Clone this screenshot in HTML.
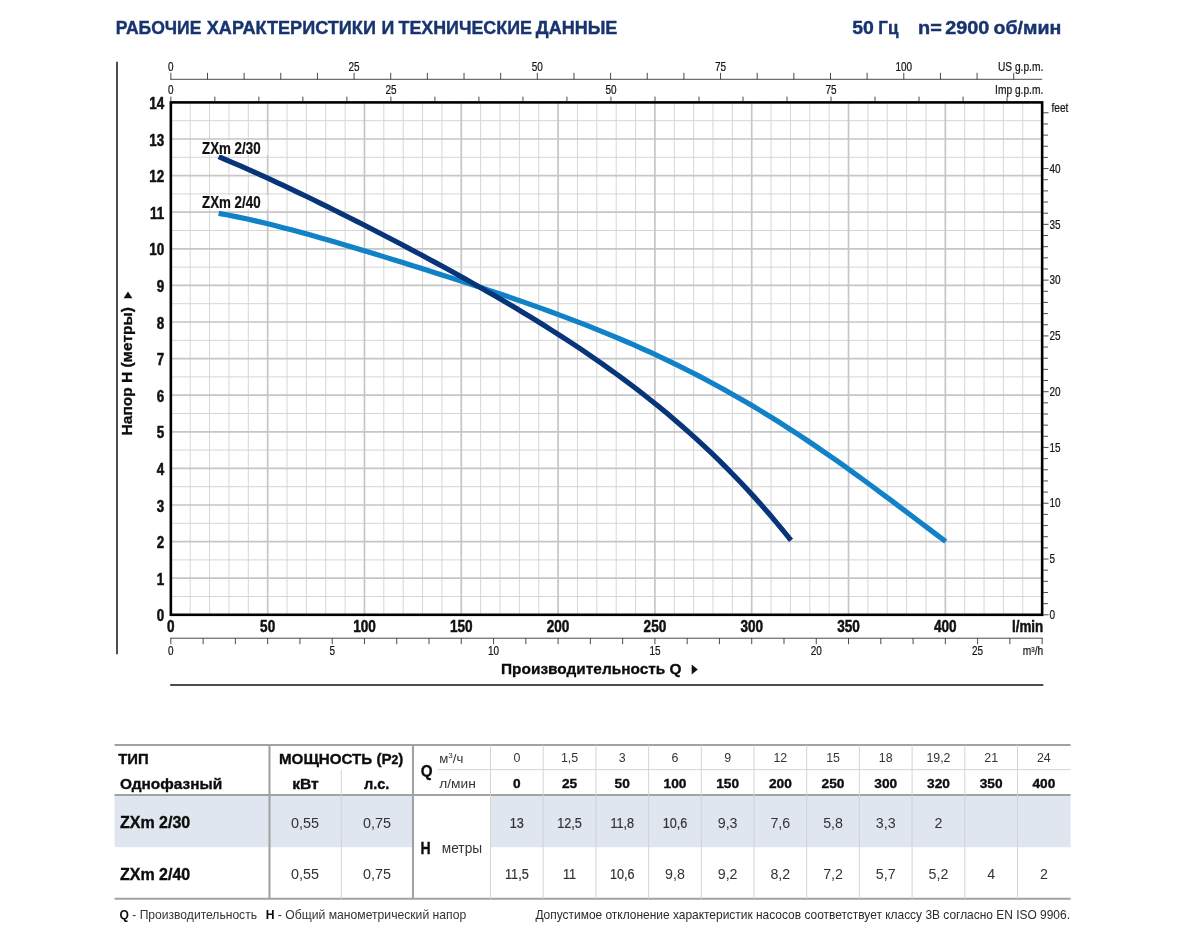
<!DOCTYPE html>
<html lang="ru"><head><meta charset="utf-8"><title>Рабочие характеристики и технические данные</title>
<style>html,body{margin:0;padding:0;background:#fff}body{width:1200px;height:950px;overflow:hidden}svg{display:block}</style>
</head><body>
<svg width="1200" height="950" viewBox="0 0 1200 950" font-family='"Liberation Sans", sans-serif'>
<rect width="1200" height="950" fill="#fff"/>
<text x="115.80" y="33.50" font-size="18.2" font-weight="bold" fill="#17346f" textLength="85.60" lengthAdjust="spacingAndGlyphs" stroke="#17346f" stroke-width="0.4">РАБОЧИЕ</text>
<text x="206.80" y="33.50" font-size="18.2" font-weight="bold" fill="#17346f" textLength="169.10" lengthAdjust="spacingAndGlyphs" stroke="#17346f" stroke-width="0.4">ХАРАКТЕРИСТИКИ</text>
<text x="381.40" y="33.50" font-size="18.2" font-weight="bold" fill="#17346f" textLength="12.80" lengthAdjust="spacingAndGlyphs" stroke="#17346f" stroke-width="0.4">И</text>
<text x="398.50" y="33.50" font-size="18.2" font-weight="bold" fill="#17346f" textLength="133.40" lengthAdjust="spacingAndGlyphs" stroke="#17346f" stroke-width="0.4">ТЕХНИЧЕСКИЕ</text>
<text x="535.80" y="33.50" font-size="18.2" font-weight="bold" fill="#17346f" textLength="81.60" lengthAdjust="spacingAndGlyphs" stroke="#17346f" stroke-width="0.4">ДАННЫЕ</text>
<text x="852.30" y="33.70" font-size="18.2" font-weight="bold" fill="#17346f" textLength="21.60" lengthAdjust="spacingAndGlyphs" stroke="#17346f" stroke-width="0.4">50</text>
<text x="878.30" y="33.70" font-size="18.2" font-weight="bold" fill="#17346f" textLength="20.10" lengthAdjust="spacingAndGlyphs" stroke="#17346f" stroke-width="0.4">Гц</text>
<text x="918.10" y="33.70" font-size="18.2" font-weight="bold" fill="#17346f" textLength="23.80" lengthAdjust="spacingAndGlyphs" stroke="#17346f" stroke-width="0.4">n=</text>
<text x="945.30" y="33.70" font-size="18.2" font-weight="bold" fill="#17346f" textLength="44.10" lengthAdjust="spacingAndGlyphs" stroke="#17346f" stroke-width="0.4">2900</text>
<text x="993.50" y="33.70" font-size="18.2" font-weight="bold" fill="#17346f" textLength="67.70" lengthAdjust="spacingAndGlyphs" stroke="#17346f" stroke-width="0.4">об/мин</text>
<line x1="117" y1="61.8" x2="117" y2="654.3" stroke="#222" stroke-width="1.6"/>
<line x1="170.2" y1="685" x2="1043.3" y2="685" stroke="#111" stroke-width="1.3"/>
<g stroke="#d6d6d6" stroke-width="1">
<line x1="190.21" y1="102.4" x2="190.21" y2="614.8"/>
<line x1="209.57" y1="102.4" x2="209.57" y2="614.8"/>
<line x1="228.94" y1="102.4" x2="228.94" y2="614.8"/>
<line x1="248.30" y1="102.4" x2="248.30" y2="614.8"/>
<line x1="287.02" y1="102.4" x2="287.02" y2="614.8"/>
<line x1="306.39" y1="102.4" x2="306.39" y2="614.8"/>
<line x1="325.75" y1="102.4" x2="325.75" y2="614.8"/>
<line x1="345.11" y1="102.4" x2="345.11" y2="614.8"/>
<line x1="383.83" y1="102.4" x2="383.83" y2="614.8"/>
<line x1="403.20" y1="102.4" x2="403.20" y2="614.8"/>
<line x1="422.56" y1="102.4" x2="422.56" y2="614.8"/>
<line x1="441.92" y1="102.4" x2="441.92" y2="614.8"/>
<line x1="480.65" y1="102.4" x2="480.65" y2="614.8"/>
<line x1="500.01" y1="102.4" x2="500.01" y2="614.8"/>
<line x1="519.37" y1="102.4" x2="519.37" y2="614.8"/>
<line x1="538.73" y1="102.4" x2="538.73" y2="614.8"/>
<line x1="577.46" y1="102.4" x2="577.46" y2="614.8"/>
<line x1="596.82" y1="102.4" x2="596.82" y2="614.8"/>
<line x1="616.18" y1="102.4" x2="616.18" y2="614.8"/>
<line x1="635.54" y1="102.4" x2="635.54" y2="614.8"/>
<line x1="674.27" y1="102.4" x2="674.27" y2="614.8"/>
<line x1="693.63" y1="102.4" x2="693.63" y2="614.8"/>
<line x1="712.99" y1="102.4" x2="712.99" y2="614.8"/>
<line x1="732.35" y1="102.4" x2="732.35" y2="614.8"/>
<line x1="771.08" y1="102.4" x2="771.08" y2="614.8"/>
<line x1="790.44" y1="102.4" x2="790.44" y2="614.8"/>
<line x1="809.80" y1="102.4" x2="809.80" y2="614.8"/>
<line x1="829.17" y1="102.4" x2="829.17" y2="614.8"/>
<line x1="867.89" y1="102.4" x2="867.89" y2="614.8"/>
<line x1="887.25" y1="102.4" x2="887.25" y2="614.8"/>
<line x1="906.61" y1="102.4" x2="906.61" y2="614.8"/>
<line x1="925.98" y1="102.4" x2="925.98" y2="614.8"/>
<line x1="964.70" y1="102.4" x2="964.70" y2="614.8"/>
<line x1="984.06" y1="102.4" x2="984.06" y2="614.8"/>
<line x1="1003.43" y1="102.4" x2="1003.43" y2="614.8"/>
<line x1="1022.79" y1="102.4" x2="1022.79" y2="614.8"/>
<line x1="170.85" y1="596.50" x2="1042.15" y2="596.50"/>
<line x1="170.85" y1="559.90" x2="1042.15" y2="559.90"/>
<line x1="170.85" y1="523.30" x2="1042.15" y2="523.30"/>
<line x1="170.85" y1="486.70" x2="1042.15" y2="486.70"/>
<line x1="170.85" y1="450.10" x2="1042.15" y2="450.10"/>
<line x1="170.85" y1="413.50" x2="1042.15" y2="413.50"/>
<line x1="170.85" y1="376.90" x2="1042.15" y2="376.90"/>
<line x1="170.85" y1="340.30" x2="1042.15" y2="340.30"/>
<line x1="170.85" y1="303.70" x2="1042.15" y2="303.70"/>
<line x1="170.85" y1="267.10" x2="1042.15" y2="267.10"/>
<line x1="170.85" y1="230.50" x2="1042.15" y2="230.50"/>
<line x1="170.85" y1="193.90" x2="1042.15" y2="193.90"/>
<line x1="170.85" y1="157.30" x2="1042.15" y2="157.30"/>
<line x1="170.85" y1="120.70" x2="1042.15" y2="120.70"/>
</g>
<g stroke="#c6c6c6" stroke-width="1.7">
<line x1="267.66" y1="102.4" x2="267.66" y2="614.8"/>
<line x1="364.47" y1="102.4" x2="364.47" y2="614.8"/>
<line x1="461.28" y1="102.4" x2="461.28" y2="614.8"/>
<line x1="558.09" y1="102.4" x2="558.09" y2="614.8"/>
<line x1="654.91" y1="102.4" x2="654.91" y2="614.8"/>
<line x1="751.72" y1="102.4" x2="751.72" y2="614.8"/>
<line x1="848.53" y1="102.4" x2="848.53" y2="614.8"/>
<line x1="945.34" y1="102.4" x2="945.34" y2="614.8"/>
<line x1="170.85" y1="578.20" x2="1042.15" y2="578.20"/>
<line x1="170.85" y1="541.60" x2="1042.15" y2="541.60"/>
<line x1="170.85" y1="505.00" x2="1042.15" y2="505.00"/>
<line x1="170.85" y1="468.40" x2="1042.15" y2="468.40"/>
<line x1="170.85" y1="431.80" x2="1042.15" y2="431.80"/>
<line x1="170.85" y1="395.20" x2="1042.15" y2="395.20"/>
<line x1="170.85" y1="358.60" x2="1042.15" y2="358.60"/>
<line x1="170.85" y1="322.00" x2="1042.15" y2="322.00"/>
<line x1="170.85" y1="285.40" x2="1042.15" y2="285.40"/>
<line x1="170.85" y1="248.80" x2="1042.15" y2="248.80"/>
<line x1="170.85" y1="212.20" x2="1042.15" y2="212.20"/>
<line x1="170.85" y1="175.60" x2="1042.15" y2="175.60"/>
<line x1="170.85" y1="139.00" x2="1042.15" y2="139.00"/>
</g>
<path d="M218.67 213.35 L227.88 215.03 L237.08 216.85 L246.28 218.80 L255.49 220.86 L264.69 223.04 L273.89 225.30 L283.10 227.65 L292.30 230.07 L301.50 232.56 L310.71 235.11 L319.91 237.71 L329.11 240.35 L338.32 243.03 L347.52 245.74 L356.72 248.49 L365.93 251.26 L375.13 254.06 L384.33 256.87 L393.54 259.71 L402.74 262.56 L411.94 265.44 L421.14 268.33 L430.35 271.24 L439.55 274.16 L448.75 277.11 L457.96 280.08 L467.16 283.07 L476.36 286.08 L485.57 289.13 L494.77 292.20 L503.97 295.31 L513.18 298.46 L522.38 301.64 L531.58 304.87 L540.79 308.15 L549.99 311.48 L559.19 314.87 L568.40 318.32 L577.60 321.83 L586.80 325.41 L596.01 329.06 L605.21 332.79 L614.41 336.60 L623.61 340.49 L632.82 344.48 L642.02 348.56 L651.22 352.73 L660.43 357.01 L669.63 361.39 L678.83 365.87 L688.04 370.47 L697.24 375.17 L706.44 379.99 L715.65 384.93 L724.85 389.98 L734.05 395.16 L743.26 400.45 L752.46 405.86 L761.66 411.39 L770.87 417.04 L780.07 422.81 L789.27 428.69 L798.48 434.68 L807.68 440.79 L816.88 447.00 L826.08 453.32 L835.29 459.73 L844.49 466.24 L853.69 472.83 L862.90 479.50 L872.10 486.24 L881.30 493.05 L890.51 499.91 L899.71 506.81 L908.91 513.74 L918.12 520.70 L927.32 527.66 L936.52 534.61 L945.73 541.54" fill="none" stroke="#1182c7" stroke-width="5.2" stroke-linejoin="round"/>
<path d="M218.67 156.69 L225.92 159.73 L233.16 162.82 L240.41 165.96 L247.65 169.14 L254.90 172.37 L262.14 175.64 L269.39 178.95 L276.63 182.30 L283.88 185.68 L291.12 189.10 L298.37 192.54 L305.61 196.02 L312.86 199.53 L320.10 203.06 L327.35 206.62 L334.59 210.21 L341.84 213.82 L349.08 217.46 L356.33 221.12 L363.57 224.80 L370.82 228.50 L378.06 232.23 L385.31 235.98 L392.55 239.76 L399.80 243.55 L407.04 247.37 L414.29 251.21 L421.53 255.08 L428.78 258.97 L436.02 262.89 L443.27 266.84 L450.51 270.81 L457.76 274.81 L465.00 278.85 L472.25 282.91 L479.49 287.01 L486.74 291.15 L493.98 295.32 L501.23 299.53 L508.47 303.78 L515.72 308.08 L522.96 312.43 L530.21 316.82 L537.45 321.27 L544.70 325.77 L551.94 330.33 L559.19 334.95 L566.43 339.63 L573.67 344.38 L580.92 349.20 L588.16 354.10 L595.41 359.08 L602.65 364.13 L609.90 369.28 L617.14 374.51 L624.39 379.84 L631.63 385.27 L638.88 390.80 L646.12 396.44 L653.37 402.19 L660.61 408.06 L667.86 414.06 L675.10 420.18 L682.35 426.43 L689.59 432.83 L696.84 439.37 L704.08 446.06 L711.33 452.91 L718.57 459.92 L725.82 467.10 L733.06 474.45 L740.31 481.98 L747.55 489.71 L754.80 497.62 L762.04 505.74 L769.29 514.07 L776.53 522.61 L783.78 531.37 L791.02 540.36" fill="none" stroke="#08357a" stroke-width="5.2" stroke-linejoin="round"/>
<rect x="200.5" y="140.3" width="67.2" height="14.6" fill="#fff"/>
<rect x="200.5" y="195.2" width="67.2" height="13.7" fill="#fff"/>
<text transform="translate(202.00 153.60) scale(0.845 1)" font-size="15.8" font-weight="bold" text-anchor="start" fill="#111" stroke="#111" stroke-width="0.25" stroke-linejoin="round">ZXm 2/30</text>
<text transform="translate(202.00 208.10) scale(0.845 1)" font-size="15.8" font-weight="bold" text-anchor="start" fill="#111" stroke="#111" stroke-width="0.25" stroke-linejoin="round">ZXm 2/40</text>
<rect x="170.85" y="102.4" width="871.30" height="512.40" fill="none" stroke="#000" stroke-width="2.6"/>
<text transform="translate(164.20 621.30) scale(0.86 1)" font-size="15.6" font-weight="bold" text-anchor="end" fill="#111" stroke="#111" stroke-width="0.5" stroke-linejoin="round">0</text>
<text transform="translate(164.20 584.70) scale(0.86 1)" font-size="15.6" font-weight="bold" text-anchor="end" fill="#111" stroke="#111" stroke-width="0.5" stroke-linejoin="round">1</text>
<text transform="translate(164.20 548.10) scale(0.86 1)" font-size="15.6" font-weight="bold" text-anchor="end" fill="#111" stroke="#111" stroke-width="0.5" stroke-linejoin="round">2</text>
<text transform="translate(164.20 511.50) scale(0.86 1)" font-size="15.6" font-weight="bold" text-anchor="end" fill="#111" stroke="#111" stroke-width="0.5" stroke-linejoin="round">3</text>
<text transform="translate(164.20 474.90) scale(0.86 1)" font-size="15.6" font-weight="bold" text-anchor="end" fill="#111" stroke="#111" stroke-width="0.5" stroke-linejoin="round">4</text>
<text transform="translate(164.20 438.30) scale(0.86 1)" font-size="15.6" font-weight="bold" text-anchor="end" fill="#111" stroke="#111" stroke-width="0.5" stroke-linejoin="round">5</text>
<text transform="translate(164.20 401.70) scale(0.86 1)" font-size="15.6" font-weight="bold" text-anchor="end" fill="#111" stroke="#111" stroke-width="0.5" stroke-linejoin="round">6</text>
<text transform="translate(164.20 365.10) scale(0.86 1)" font-size="15.6" font-weight="bold" text-anchor="end" fill="#111" stroke="#111" stroke-width="0.5" stroke-linejoin="round">7</text>
<text transform="translate(164.20 328.50) scale(0.86 1)" font-size="15.6" font-weight="bold" text-anchor="end" fill="#111" stroke="#111" stroke-width="0.5" stroke-linejoin="round">8</text>
<text transform="translate(164.20 291.90) scale(0.86 1)" font-size="15.6" font-weight="bold" text-anchor="end" fill="#111" stroke="#111" stroke-width="0.5" stroke-linejoin="round">9</text>
<text transform="translate(164.20 255.30) scale(0.86 1)" font-size="15.6" font-weight="bold" text-anchor="end" fill="#111" stroke="#111" stroke-width="0.5" stroke-linejoin="round">10</text>
<text transform="translate(164.20 218.70) scale(0.86 1)" font-size="15.6" font-weight="bold" text-anchor="end" fill="#111" stroke="#111" stroke-width="0.5" stroke-linejoin="round">11</text>
<text transform="translate(164.20 182.10) scale(0.86 1)" font-size="15.6" font-weight="bold" text-anchor="end" fill="#111" stroke="#111" stroke-width="0.5" stroke-linejoin="round">12</text>
<text transform="translate(164.20 145.50) scale(0.86 1)" font-size="15.6" font-weight="bold" text-anchor="end" fill="#111" stroke="#111" stroke-width="0.5" stroke-linejoin="round">13</text>
<text transform="translate(164.20 108.90) scale(0.86 1)" font-size="15.6" font-weight="bold" text-anchor="end" fill="#111" stroke="#111" stroke-width="0.5" stroke-linejoin="round">14</text>
<text transform="translate(170.85 632.00) scale(0.86 1)" font-size="15.8" font-weight="bold" text-anchor="middle" fill="#111" stroke="#111" stroke-width="0.5" stroke-linejoin="round">0</text>
<text transform="translate(267.66 632.00) scale(0.86 1)" font-size="15.8" font-weight="bold" text-anchor="middle" fill="#111" stroke="#111" stroke-width="0.5" stroke-linejoin="round">50</text>
<text transform="translate(364.47 632.00) scale(0.86 1)" font-size="15.8" font-weight="bold" text-anchor="middle" fill="#111" stroke="#111" stroke-width="0.5" stroke-linejoin="round">100</text>
<text transform="translate(461.28 632.00) scale(0.86 1)" font-size="15.8" font-weight="bold" text-anchor="middle" fill="#111" stroke="#111" stroke-width="0.5" stroke-linejoin="round">150</text>
<text transform="translate(558.09 632.00) scale(0.86 1)" font-size="15.8" font-weight="bold" text-anchor="middle" fill="#111" stroke="#111" stroke-width="0.5" stroke-linejoin="round">200</text>
<text transform="translate(654.91 632.00) scale(0.86 1)" font-size="15.8" font-weight="bold" text-anchor="middle" fill="#111" stroke="#111" stroke-width="0.5" stroke-linejoin="round">250</text>
<text transform="translate(751.72 632.00) scale(0.86 1)" font-size="15.8" font-weight="bold" text-anchor="middle" fill="#111" stroke="#111" stroke-width="0.5" stroke-linejoin="round">300</text>
<text transform="translate(848.53 632.00) scale(0.86 1)" font-size="15.8" font-weight="bold" text-anchor="middle" fill="#111" stroke="#111" stroke-width="0.5" stroke-linejoin="round">350</text>
<text transform="translate(945.34 632.00) scale(0.86 1)" font-size="15.8" font-weight="bold" text-anchor="middle" fill="#111" stroke="#111" stroke-width="0.5" stroke-linejoin="round">400</text>
<text transform="translate(1043.30 631.90) scale(0.83 1)" font-size="16.2" font-weight="bold" text-anchor="end" fill="#111" stroke="#111" stroke-width="0.5" stroke-linejoin="round">l/min</text>
<g stroke="#2a2a2a" stroke-width="0.85" fill="none">
<line x1="170.25" y1="79.3" x2="1042.15" y2="79.3"/>
<line x1="170.85" y1="72.8" x2="170.85" y2="79.3"/>
<line x1="207.50" y1="72.8" x2="207.50" y2="79.3"/>
<line x1="244.14" y1="72.8" x2="244.14" y2="79.3"/>
<line x1="280.79" y1="72.8" x2="280.79" y2="79.3"/>
<line x1="317.44" y1="72.8" x2="317.44" y2="79.3"/>
<line x1="354.08" y1="72.8" x2="354.08" y2="79.3"/>
<line x1="390.73" y1="72.8" x2="390.73" y2="79.3"/>
<line x1="427.38" y1="72.8" x2="427.38" y2="79.3"/>
<line x1="464.03" y1="72.8" x2="464.03" y2="79.3"/>
<line x1="500.67" y1="72.8" x2="500.67" y2="79.3"/>
<line x1="537.32" y1="72.8" x2="537.32" y2="79.3"/>
<line x1="573.97" y1="72.8" x2="573.97" y2="79.3"/>
<line x1="610.61" y1="72.8" x2="610.61" y2="79.3"/>
<line x1="647.26" y1="72.8" x2="647.26" y2="79.3"/>
<line x1="683.91" y1="72.8" x2="683.91" y2="79.3"/>
<line x1="720.55" y1="72.8" x2="720.55" y2="79.3"/>
<line x1="757.20" y1="72.8" x2="757.20" y2="79.3"/>
<line x1="793.85" y1="72.8" x2="793.85" y2="79.3"/>
<line x1="830.50" y1="72.8" x2="830.50" y2="79.3"/>
<line x1="867.14" y1="72.8" x2="867.14" y2="79.3"/>
<line x1="903.79" y1="72.8" x2="903.79" y2="79.3"/>
<line x1="940.44" y1="72.8" x2="940.44" y2="79.3"/>
<line x1="977.08" y1="72.8" x2="977.08" y2="79.3"/>
<line x1="1013.73" y1="72.8" x2="1013.73" y2="79.3"/>
<line x1="170.85" y1="96.6" x2="170.85" y2="101.5"/>
<line x1="214.86" y1="96.6" x2="214.86" y2="101.5"/>
<line x1="258.87" y1="96.6" x2="258.87" y2="101.5"/>
<line x1="302.88" y1="96.6" x2="302.88" y2="101.5"/>
<line x1="346.89" y1="96.6" x2="346.89" y2="101.5"/>
<line x1="390.91" y1="96.6" x2="390.91" y2="101.5"/>
<line x1="434.92" y1="96.6" x2="434.92" y2="101.5"/>
<line x1="478.93" y1="96.6" x2="478.93" y2="101.5"/>
<line x1="522.94" y1="96.6" x2="522.94" y2="101.5"/>
<line x1="566.95" y1="96.6" x2="566.95" y2="101.5"/>
<line x1="610.96" y1="96.6" x2="610.96" y2="101.5"/>
<line x1="654.97" y1="96.6" x2="654.97" y2="101.5"/>
<line x1="698.98" y1="96.6" x2="698.98" y2="101.5"/>
<line x1="743.00" y1="96.6" x2="743.00" y2="101.5"/>
<line x1="787.01" y1="96.6" x2="787.01" y2="101.5"/>
<line x1="831.02" y1="96.6" x2="831.02" y2="101.5"/>
<line x1="875.03" y1="96.6" x2="875.03" y2="101.5"/>
<line x1="919.04" y1="96.6" x2="919.04" y2="101.5"/>
<line x1="963.05" y1="96.6" x2="963.05" y2="101.5"/>
<line x1="1007.06" y1="96.6" x2="1007.06" y2="101.5"/>
<line x1="170.25" y1="638.2" x2="1042.65" y2="638.2"/>
<line x1="170.85" y1="638.2" x2="170.85" y2="644.2"/>
<line x1="203.12" y1="638.2" x2="203.12" y2="644.2"/>
<line x1="235.39" y1="638.2" x2="235.39" y2="644.2"/>
<line x1="267.66" y1="638.2" x2="267.66" y2="644.2"/>
<line x1="299.93" y1="638.2" x2="299.93" y2="644.2"/>
<line x1="332.20" y1="638.2" x2="332.20" y2="644.2"/>
<line x1="364.47" y1="638.2" x2="364.47" y2="644.2"/>
<line x1="396.74" y1="638.2" x2="396.74" y2="644.2"/>
<line x1="429.01" y1="638.2" x2="429.01" y2="644.2"/>
<line x1="461.28" y1="638.2" x2="461.28" y2="644.2"/>
<line x1="493.55" y1="638.2" x2="493.55" y2="644.2"/>
<line x1="525.82" y1="638.2" x2="525.82" y2="644.2"/>
<line x1="558.09" y1="638.2" x2="558.09" y2="644.2"/>
<line x1="590.36" y1="638.2" x2="590.36" y2="644.2"/>
<line x1="622.64" y1="638.2" x2="622.64" y2="644.2"/>
<line x1="654.91" y1="638.2" x2="654.91" y2="644.2"/>
<line x1="687.18" y1="638.2" x2="687.18" y2="644.2"/>
<line x1="719.45" y1="638.2" x2="719.45" y2="644.2"/>
<line x1="751.72" y1="638.2" x2="751.72" y2="644.2"/>
<line x1="783.99" y1="638.2" x2="783.99" y2="644.2"/>
<line x1="816.26" y1="638.2" x2="816.26" y2="644.2"/>
<line x1="848.53" y1="638.2" x2="848.53" y2="644.2"/>
<line x1="880.80" y1="638.2" x2="880.80" y2="644.2"/>
<line x1="913.07" y1="638.2" x2="913.07" y2="644.2"/>
<line x1="945.34" y1="638.2" x2="945.34" y2="644.2"/>
<line x1="977.61" y1="638.2" x2="977.61" y2="644.2"/>
<line x1="1009.88" y1="638.2" x2="1009.88" y2="644.2"/>
<line x1="1042.15" y1="638.2" x2="1042.15" y2="644.2"/>
<line x1="1043.15" y1="614.80" x2="1048.5500000000002" y2="614.80"/>
<line x1="1043.15" y1="603.64" x2="1047.95" y2="603.64"/>
<line x1="1043.15" y1="592.49" x2="1047.95" y2="592.49"/>
<line x1="1043.15" y1="581.33" x2="1047.95" y2="581.33"/>
<line x1="1043.15" y1="570.18" x2="1047.95" y2="570.18"/>
<line x1="1043.15" y1="559.02" x2="1048.5500000000002" y2="559.02"/>
<line x1="1043.15" y1="547.87" x2="1047.95" y2="547.87"/>
<line x1="1043.15" y1="536.71" x2="1047.95" y2="536.71"/>
<line x1="1043.15" y1="525.55" x2="1047.95" y2="525.55"/>
<line x1="1043.15" y1="514.40" x2="1047.95" y2="514.40"/>
<line x1="1043.15" y1="503.24" x2="1048.5500000000002" y2="503.24"/>
<line x1="1043.15" y1="492.09" x2="1047.95" y2="492.09"/>
<line x1="1043.15" y1="480.93" x2="1047.95" y2="480.93"/>
<line x1="1043.15" y1="469.78" x2="1047.95" y2="469.78"/>
<line x1="1043.15" y1="458.62" x2="1047.95" y2="458.62"/>
<line x1="1043.15" y1="447.46" x2="1048.5500000000002" y2="447.46"/>
<line x1="1043.15" y1="436.31" x2="1047.95" y2="436.31"/>
<line x1="1043.15" y1="425.15" x2="1047.95" y2="425.15"/>
<line x1="1043.15" y1="414.00" x2="1047.95" y2="414.00"/>
<line x1="1043.15" y1="402.84" x2="1047.95" y2="402.84"/>
<line x1="1043.15" y1="391.69" x2="1048.5500000000002" y2="391.69"/>
<line x1="1043.15" y1="380.53" x2="1047.95" y2="380.53"/>
<line x1="1043.15" y1="369.38" x2="1047.95" y2="369.38"/>
<line x1="1043.15" y1="358.22" x2="1047.95" y2="358.22"/>
<line x1="1043.15" y1="347.06" x2="1047.95" y2="347.06"/>
<line x1="1043.15" y1="335.91" x2="1048.5500000000002" y2="335.91"/>
<line x1="1043.15" y1="324.75" x2="1047.95" y2="324.75"/>
<line x1="1043.15" y1="313.60" x2="1047.95" y2="313.60"/>
<line x1="1043.15" y1="302.44" x2="1047.95" y2="302.44"/>
<line x1="1043.15" y1="291.29" x2="1047.95" y2="291.29"/>
<line x1="1043.15" y1="280.13" x2="1048.5500000000002" y2="280.13"/>
<line x1="1043.15" y1="268.97" x2="1047.95" y2="268.97"/>
<line x1="1043.15" y1="257.82" x2="1047.95" y2="257.82"/>
<line x1="1043.15" y1="246.66" x2="1047.95" y2="246.66"/>
<line x1="1043.15" y1="235.51" x2="1047.95" y2="235.51"/>
<line x1="1043.15" y1="224.35" x2="1048.5500000000002" y2="224.35"/>
<line x1="1043.15" y1="213.20" x2="1047.95" y2="213.20"/>
<line x1="1043.15" y1="202.04" x2="1047.95" y2="202.04"/>
<line x1="1043.15" y1="190.88" x2="1047.95" y2="190.88"/>
<line x1="1043.15" y1="179.73" x2="1047.95" y2="179.73"/>
<line x1="1043.15" y1="168.57" x2="1048.5500000000002" y2="168.57"/>
<line x1="1043.15" y1="157.42" x2="1047.95" y2="157.42"/>
<line x1="1043.15" y1="146.26" x2="1047.95" y2="146.26"/>
<line x1="1043.15" y1="135.11" x2="1047.95" y2="135.11"/>
<line x1="1043.15" y1="123.95" x2="1047.95" y2="123.95"/>
<line x1="1043.15" y1="112.79" x2="1048.5500000000002" y2="112.79"/>
</g>
<text transform="translate(170.85 70.70) scale(0.83 1)" font-size="12.0" font-weight="normal" text-anchor="middle" fill="#151515" stroke="#151515" stroke-width="0.22">0</text>
<text transform="translate(354.08 70.70) scale(0.83 1)" font-size="12.0" font-weight="normal" text-anchor="middle" fill="#151515" stroke="#151515" stroke-width="0.22">25</text>
<text transform="translate(537.32 70.70) scale(0.83 1)" font-size="12.0" font-weight="normal" text-anchor="middle" fill="#151515" stroke="#151515" stroke-width="0.22">50</text>
<text transform="translate(720.55 70.70) scale(0.83 1)" font-size="12.0" font-weight="normal" text-anchor="middle" fill="#151515" stroke="#151515" stroke-width="0.22">75</text>
<text transform="translate(903.79 70.70) scale(0.83 1)" font-size="12.0" font-weight="normal" text-anchor="middle" fill="#151515" stroke="#151515" stroke-width="0.22">100</text>
<text transform="translate(170.85 93.90) scale(0.83 1)" font-size="12.0" font-weight="normal" text-anchor="middle" fill="#151515" stroke="#151515" stroke-width="0.22">0</text>
<text transform="translate(390.91 93.90) scale(0.83 1)" font-size="12.0" font-weight="normal" text-anchor="middle" fill="#151515" stroke="#151515" stroke-width="0.22">25</text>
<text transform="translate(610.96 93.90) scale(0.83 1)" font-size="12.0" font-weight="normal" text-anchor="middle" fill="#151515" stroke="#151515" stroke-width="0.22">50</text>
<text transform="translate(831.02 93.90) scale(0.83 1)" font-size="12.0" font-weight="normal" text-anchor="middle" fill="#151515" stroke="#151515" stroke-width="0.22">75</text>
<text transform="translate(1043.30 70.90) scale(0.83 1)" font-size="12.3" font-weight="normal" text-anchor="end" fill="#151515" stroke="#151515" stroke-width="0.22">US g.p.m.</text>
<text transform="translate(1043.30 93.90) scale(0.83 1)" font-size="12.3" font-weight="normal" text-anchor="end" fill="#151515" stroke="#151515" stroke-width="0.22">Imp g.p.m.</text>
<text transform="translate(170.85 655.00) scale(0.83 1)" font-size="12.0" font-weight="normal" text-anchor="middle" fill="#151515" stroke="#151515" stroke-width="0.22">0</text>
<text transform="translate(332.20 655.00) scale(0.83 1)" font-size="12.0" font-weight="normal" text-anchor="middle" fill="#151515" stroke="#151515" stroke-width="0.22">5</text>
<text transform="translate(493.55 655.00) scale(0.83 1)" font-size="12.0" font-weight="normal" text-anchor="middle" fill="#151515" stroke="#151515" stroke-width="0.22">10</text>
<text transform="translate(654.91 655.00) scale(0.83 1)" font-size="12.0" font-weight="normal" text-anchor="middle" fill="#151515" stroke="#151515" stroke-width="0.22">15</text>
<text transform="translate(816.26 655.00) scale(0.83 1)" font-size="12.0" font-weight="normal" text-anchor="middle" fill="#151515" stroke="#151515" stroke-width="0.22">20</text>
<text transform="translate(977.61 655.00) scale(0.83 1)" font-size="12.0" font-weight="normal" text-anchor="middle" fill="#151515" stroke="#151515" stroke-width="0.22">25</text>
<text transform="translate(1043.30 654.80) scale(0.83 1)" font-size="12.3" font-weight="normal" text-anchor="end" fill="#151515" stroke="#151515" stroke-width="0.22">m<tspan font-size="7.5" dy="-3.2">3</tspan><tspan dy="3.2">/h</tspan></text>
<text transform="translate(1049.50 619.00) scale(0.83 1)" font-size="12.0" font-weight="normal" text-anchor="start" fill="#151515" stroke="#151515" stroke-width="0.22">0</text>
<text transform="translate(1049.50 563.22) scale(0.83 1)" font-size="12.0" font-weight="normal" text-anchor="start" fill="#151515" stroke="#151515" stroke-width="0.22">5</text>
<text transform="translate(1049.50 507.44) scale(0.83 1)" font-size="12.0" font-weight="normal" text-anchor="start" fill="#151515" stroke="#151515" stroke-width="0.22">10</text>
<text transform="translate(1049.50 451.66) scale(0.83 1)" font-size="12.0" font-weight="normal" text-anchor="start" fill="#151515" stroke="#151515" stroke-width="0.22">15</text>
<text transform="translate(1049.50 395.89) scale(0.83 1)" font-size="12.0" font-weight="normal" text-anchor="start" fill="#151515" stroke="#151515" stroke-width="0.22">20</text>
<text transform="translate(1049.50 340.11) scale(0.83 1)" font-size="12.0" font-weight="normal" text-anchor="start" fill="#151515" stroke="#151515" stroke-width="0.22">25</text>
<text transform="translate(1049.50 284.33) scale(0.83 1)" font-size="12.0" font-weight="normal" text-anchor="start" fill="#151515" stroke="#151515" stroke-width="0.22">30</text>
<text transform="translate(1049.50 228.55) scale(0.83 1)" font-size="12.0" font-weight="normal" text-anchor="start" fill="#151515" stroke="#151515" stroke-width="0.22">35</text>
<text transform="translate(1049.50 172.77) scale(0.83 1)" font-size="12.0" font-weight="normal" text-anchor="start" fill="#151515" stroke="#151515" stroke-width="0.22">40</text>
<text transform="translate(1051.40 112.00) scale(0.83 1)" font-size="12.3" font-weight="normal" text-anchor="start" fill="#151515" stroke="#151515" stroke-width="0.22">feet</text>
<text transform="translate(132.4 435.4) rotate(-90)" font-size="15.3" font-weight="bold" fill="#0c0c0c" stroke="#0c0c0c" stroke-width="0.3" textLength="128.2" lengthAdjust="spacingAndGlyphs">Напор H (метры)</text>
<path d="M123.6 298.3 L132.4 298.3 L128 291.6 Z" fill="#111"/>
<text x="501.00" y="674.40" font-size="15.3" font-weight="bold" fill="#0c0c0c" textLength="180.60" lengthAdjust="spacingAndGlyphs" stroke="#0c0c0c" stroke-width="0.3">Производительность Q</text>
<path d="M691.7 664.6 L691.7 674.4 L697.8 669.5 Z" fill="#111"/>
<rect x="114.5" y="795.8" width="298.5" height="51.4" fill="#dfe6ef"/>
<rect x="490.5" y="795.8" width="580.0999999999999" height="51.4" fill="#dfe6ef"/>
<g stroke="#a2a2a2" stroke-width="2.1">
<line x1="114.5" y1="745" x2="1070.6" y2="745"/>
<line x1="114.5" y1="795" x2="1070.6" y2="795"/>
<line x1="114.5" y1="898.8" x2="1070.6" y2="898.8"/>
<line x1="269.5" y1="745" x2="269.5" y2="898.8"/>
<line x1="413" y1="745" x2="413" y2="898.8"/>
</g>
<g stroke="#d0d0d0" stroke-width="0.9">
<line x1="341.3" y1="770" x2="341.3" y2="898.8"/>
<line x1="490.50" y1="745" x2="490.50" y2="898.8"/>
<line x1="543.20" y1="745" x2="543.20" y2="898.8"/>
<line x1="595.90" y1="745" x2="595.90" y2="898.8"/>
<line x1="648.60" y1="745" x2="648.60" y2="898.8"/>
<line x1="701.30" y1="745" x2="701.30" y2="898.8"/>
<line x1="754.00" y1="745" x2="754.00" y2="898.8"/>
<line x1="806.70" y1="745" x2="806.70" y2="898.8"/>
<line x1="859.40" y1="745" x2="859.40" y2="898.8"/>
<line x1="912.10" y1="745" x2="912.10" y2="898.8"/>
<line x1="964.80" y1="745" x2="964.80" y2="898.8"/>
<line x1="1017.50" y1="745" x2="1017.50" y2="898.8"/>
<line x1="438" y1="769.6" x2="1070.6" y2="769.6"/>
</g>
<text x="118.30" y="764.00" font-size="15.3" font-weight="bold" fill="#0c0c0c" textLength="30.40" lengthAdjust="spacingAndGlyphs" stroke="#0c0c0c" stroke-width="0.35">ТИП</text>
<text x="120.10" y="789.20" font-size="15.3" font-weight="bold" fill="#0c0c0c" textLength="102.20" lengthAdjust="spacingAndGlyphs" stroke="#0c0c0c" stroke-width="0.35">Однофазный</text>
<text x="279.00" y="763.80" font-size="15.0" font-weight="bold" fill="#0c0c0c" textLength="124.40" lengthAdjust="spacingAndGlyphs" stroke="#0c0c0c" stroke-width="0.35">МОЩНОСТЬ (P<tspan font-size="12">2</tspan>)</text>
<text x="292.20" y="789.20" font-size="15.3" font-weight="bold" fill="#0c0c0c" textLength="26.60" lengthAdjust="spacingAndGlyphs" stroke="#0c0c0c" stroke-width="0.35">кВт</text>
<text x="364.00" y="789.20" font-size="15.3" font-weight="bold" fill="#0c0c0c" textLength="25.40" lengthAdjust="spacingAndGlyphs" stroke="#0c0c0c" stroke-width="0.35">л.с.</text>
<text x="120.00" y="828.00" font-size="16.4" font-weight="bold" fill="#0c0c0c" textLength="70.20" lengthAdjust="spacingAndGlyphs" stroke="#0c0c0c" stroke-width="0.35">ZXm 2/30</text>
<text x="120.00" y="879.80" font-size="16.4" font-weight="bold" fill="#0c0c0c" textLength="70.20" lengthAdjust="spacingAndGlyphs" stroke="#0c0c0c" stroke-width="0.35">ZXm 2/40</text>
<text transform="translate(305.00 827.50) scale(1.0 1)" font-size="14.4" font-weight="normal" text-anchor="middle" fill="#333">0,55</text>
<text transform="translate(377.00 827.50) scale(1.0 1)" font-size="14.4" font-weight="normal" text-anchor="middle" fill="#333">0,75</text>
<text transform="translate(305.00 879.30) scale(1.0 1)" font-size="14.4" font-weight="normal" text-anchor="middle" fill="#333">0,55</text>
<text transform="translate(377.00 879.30) scale(1.0 1)" font-size="14.4" font-weight="normal" text-anchor="middle" fill="#333">0,75</text>
<text transform="translate(420.70 776.60) scale(0.95 1)" font-size="16.0" font-weight="bold" text-anchor="start" fill="#0c0c0c" stroke="#0c0c0c" stroke-width="0.35">Q</text>
<text transform="translate(439.20 762.50) scale(1.0 1)" font-size="13.2" font-weight="normal" text-anchor="start" fill="#333">м<tspan font-size="8" dy="-4.5">3</tspan><tspan dy="4.5">/ч</tspan></text>
<text x="439.20" y="788.20" font-size="13.2" font-weight="normal" fill="#333" textLength="36.60" lengthAdjust="spacingAndGlyphs">л/мин</text>
<text transform="translate(420.60 853.60) scale(0.9 1)" font-size="15.6" font-weight="bold" text-anchor="start" fill="#0c0c0c" stroke="#0c0c0c" stroke-width="0.35">H</text>
<text x="441.80" y="853.00" font-size="13.8" font-weight="normal" fill="#333" textLength="40.30" lengthAdjust="spacingAndGlyphs">метры</text>
<text transform="translate(516.85 762.40) scale(1.0 1)" font-size="12.4" font-weight="normal" text-anchor="middle" fill="#333">0</text>
<text transform="translate(516.85 788.30) scale(1.03 1)" font-size="13.3" font-weight="bold" text-anchor="middle" fill="#0c0c0c" stroke="#0c0c0c" stroke-width="0.35">0</text>
<text transform="translate(516.85 827.50) scale(0.88 1)" font-size="14.4" font-weight="normal" text-anchor="middle" fill="#333" stroke="#333" stroke-width="0.22">13</text>
<text transform="translate(516.85 879.30) scale(0.88 1)" font-size="14.4" font-weight="normal" text-anchor="middle" fill="#333" stroke="#333" stroke-width="0.22">11,5</text>
<text transform="translate(569.55 762.40) scale(1.0 1)" font-size="12.4" font-weight="normal" text-anchor="middle" fill="#333">1,5</text>
<text transform="translate(569.55 788.30) scale(1.03 1)" font-size="13.3" font-weight="bold" text-anchor="middle" fill="#0c0c0c" stroke="#0c0c0c" stroke-width="0.35">25</text>
<text transform="translate(569.55 827.50) scale(0.88 1)" font-size="14.4" font-weight="normal" text-anchor="middle" fill="#333" stroke="#333" stroke-width="0.22">12,5</text>
<text transform="translate(569.55 879.30) scale(0.88 1)" font-size="14.4" font-weight="normal" text-anchor="middle" fill="#333" stroke="#333" stroke-width="0.22">11</text>
<text transform="translate(622.25 762.40) scale(1.0 1)" font-size="12.4" font-weight="normal" text-anchor="middle" fill="#333">3</text>
<text transform="translate(622.25 788.30) scale(1.03 1)" font-size="13.3" font-weight="bold" text-anchor="middle" fill="#0c0c0c" stroke="#0c0c0c" stroke-width="0.35">50</text>
<text transform="translate(622.25 827.50) scale(0.88 1)" font-size="14.4" font-weight="normal" text-anchor="middle" fill="#333" stroke="#333" stroke-width="0.22">11,8</text>
<text transform="translate(622.25 879.30) scale(0.88 1)" font-size="14.4" font-weight="normal" text-anchor="middle" fill="#333" stroke="#333" stroke-width="0.22">10,6</text>
<text transform="translate(674.95 762.40) scale(1.0 1)" font-size="12.4" font-weight="normal" text-anchor="middle" fill="#333">6</text>
<text transform="translate(674.95 788.30) scale(1.03 1)" font-size="13.3" font-weight="bold" text-anchor="middle" fill="#0c0c0c" stroke="#0c0c0c" stroke-width="0.35">100</text>
<text transform="translate(674.95 827.50) scale(0.88 1)" font-size="14.4" font-weight="normal" text-anchor="middle" fill="#333" stroke="#333" stroke-width="0.22">10,6</text>
<text transform="translate(674.95 879.30) scale(0.99 1)" font-size="14.4" font-weight="normal" text-anchor="middle" fill="#333">9,8</text>
<text transform="translate(727.65 762.40) scale(1.0 1)" font-size="12.4" font-weight="normal" text-anchor="middle" fill="#333">9</text>
<text transform="translate(727.65 788.30) scale(1.03 1)" font-size="13.3" font-weight="bold" text-anchor="middle" fill="#0c0c0c" stroke="#0c0c0c" stroke-width="0.35">150</text>
<text transform="translate(727.65 827.50) scale(0.99 1)" font-size="14.4" font-weight="normal" text-anchor="middle" fill="#333">9,3</text>
<text transform="translate(727.65 879.30) scale(0.99 1)" font-size="14.4" font-weight="normal" text-anchor="middle" fill="#333">9,2</text>
<text transform="translate(780.35 762.40) scale(1.0 1)" font-size="12.4" font-weight="normal" text-anchor="middle" fill="#333">12</text>
<text transform="translate(780.35 788.30) scale(1.03 1)" font-size="13.3" font-weight="bold" text-anchor="middle" fill="#0c0c0c" stroke="#0c0c0c" stroke-width="0.35">200</text>
<text transform="translate(780.35 827.50) scale(0.99 1)" font-size="14.4" font-weight="normal" text-anchor="middle" fill="#333">7,6</text>
<text transform="translate(780.35 879.30) scale(0.99 1)" font-size="14.4" font-weight="normal" text-anchor="middle" fill="#333">8,2</text>
<text transform="translate(833.05 762.40) scale(1.0 1)" font-size="12.4" font-weight="normal" text-anchor="middle" fill="#333">15</text>
<text transform="translate(833.05 788.30) scale(1.03 1)" font-size="13.3" font-weight="bold" text-anchor="middle" fill="#0c0c0c" stroke="#0c0c0c" stroke-width="0.35">250</text>
<text transform="translate(833.05 827.50) scale(0.99 1)" font-size="14.4" font-weight="normal" text-anchor="middle" fill="#333">5,8</text>
<text transform="translate(833.05 879.30) scale(0.99 1)" font-size="14.4" font-weight="normal" text-anchor="middle" fill="#333">7,2</text>
<text transform="translate(885.75 762.40) scale(1.0 1)" font-size="12.4" font-weight="normal" text-anchor="middle" fill="#333">18</text>
<text transform="translate(885.75 788.30) scale(1.03 1)" font-size="13.3" font-weight="bold" text-anchor="middle" fill="#0c0c0c" stroke="#0c0c0c" stroke-width="0.35">300</text>
<text transform="translate(885.75 827.50) scale(0.99 1)" font-size="14.4" font-weight="normal" text-anchor="middle" fill="#333">3,3</text>
<text transform="translate(885.75 879.30) scale(0.99 1)" font-size="14.4" font-weight="normal" text-anchor="middle" fill="#333">5,7</text>
<text transform="translate(938.45 762.40) scale(1.0 1)" font-size="12.4" font-weight="normal" text-anchor="middle" fill="#333">19,2</text>
<text transform="translate(938.45 788.30) scale(1.03 1)" font-size="13.3" font-weight="bold" text-anchor="middle" fill="#0c0c0c" stroke="#0c0c0c" stroke-width="0.35">320</text>
<text transform="translate(938.45 827.50) scale(0.99 1)" font-size="14.4" font-weight="normal" text-anchor="middle" fill="#333">2</text>
<text transform="translate(938.45 879.30) scale(0.99 1)" font-size="14.4" font-weight="normal" text-anchor="middle" fill="#333">5,2</text>
<text transform="translate(991.15 762.40) scale(1.0 1)" font-size="12.4" font-weight="normal" text-anchor="middle" fill="#333">21</text>
<text transform="translate(991.15 788.30) scale(1.03 1)" font-size="13.3" font-weight="bold" text-anchor="middle" fill="#0c0c0c" stroke="#0c0c0c" stroke-width="0.35">350</text>
<text transform="translate(991.15 879.30) scale(0.99 1)" font-size="14.4" font-weight="normal" text-anchor="middle" fill="#333">4</text>
<text transform="translate(1043.85 762.40) scale(1.0 1)" font-size="12.4" font-weight="normal" text-anchor="middle" fill="#333">24</text>
<text transform="translate(1043.85 788.30) scale(1.03 1)" font-size="13.3" font-weight="bold" text-anchor="middle" fill="#0c0c0c" stroke="#0c0c0c" stroke-width="0.35">400</text>
<text transform="translate(1043.85 879.30) scale(0.99 1)" font-size="14.4" font-weight="normal" text-anchor="middle" fill="#333">2</text>
<text x="119.5" y="918.8" font-size="12.2" fill="#333" textLength="137.5" lengthAdjust="spacingAndGlyphs"><tspan font-weight="bold" fill="#0c0c0c">Q</tspan> - Производительность</text>
<text x="265.7" y="918.8" font-size="12.2" fill="#333" textLength="200.5" lengthAdjust="spacingAndGlyphs"><tspan font-weight="bold" fill="#0c0c0c">H</tspan> - Общий манометрический напор</text>
<text x="535.40" y="918.80" font-size="12.2" font-weight="normal" fill="#2a2a2a" textLength="534.60" lengthAdjust="spacingAndGlyphs">Допустимое отклонение характеристик насосов соответствует классу 3B согласно EN ISO 9906.</text>
</svg>
</body></html>
